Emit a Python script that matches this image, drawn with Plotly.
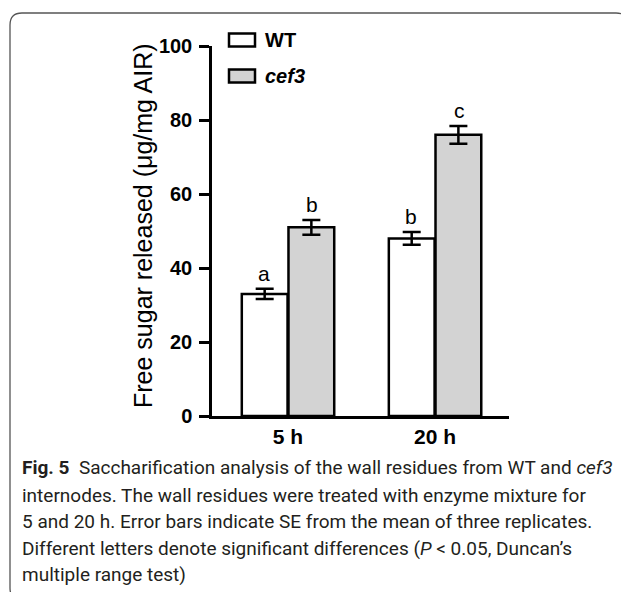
import plotly.graph_objects as go

categories = ["5 h", "20 h"]
wt_values = [33.0, 48.0]
wt_se = [1.4, 1.7]
cef3_values = [51.0, 76.0]
cef3_se = [2.0, 2.4]
wt_letters = ["a", "b"]
cef3_letters = ["b", "c"]
y_ticks = [0, 20, 40, 60, 80, 100]

OFF = 8  # page body margin
W, H = 629 - OFF, 592 - OFF
# plot area in target-image pixels
L, R, T, B = 212, 509, 46, 416


def px(x):
    return (x - L) / (R - L)


def py(y):
    return (B - y) / (B - T)


fig = go.Figure()
fig.add_trace(go.Bar(
    x=categories, y=wt_values, name="WT",
    marker=dict(color="white", line=dict(color="black", width=2.5)),
    error_y=dict(type="data", array=wt_se, visible=True, color="black", thickness=2.5, width=9),
))
fig.add_trace(go.Bar(
    x=categories, y=cef3_values, name="cef3",
    marker=dict(color="#d3d3d3", line=dict(color="black", width=2.5)),
    error_y=dict(type="data", array=cef3_se, visible=True, color="black", thickness=2.5, width=9),
))

annotations = []
for i, c in enumerate(categories):
    annotations.append(dict(x=c, y=wt_values[i] + wt_se[i], xref="x", yref="y", text=wt_letters[i],
                            showarrow=False, xshift=-24, yanchor="bottom", yshift=2,
                            font=dict(family="Liberation Sans", size=21, color="black")))
    annotations.append(dict(x=c, y=cef3_values[i] + cef3_se[i], xref="x", yref="y", text=cef3_letters[i],
                            showarrow=False, xshift=24, yanchor="bottom", yshift=2,
                            font=dict(family="Liberation Sans", size=21, color="black")))

# y-axis title
annotations.append(dict(x=px(143), y=py(226), xref="paper", yref="paper",
                        xanchor="center", yanchor="middle",
                        text="Free sugar released (μg/mg AIR)", textangle=-90, showarrow=False,
                        font=dict(family="Liberation Sans", size=25, color="black")))

# legend
shapes = []
leg = [("WT", "white", 40, "<b>WT</b>"), ("cef3", "#d3d3d3", 76, "<b><i>cef3</i></b>")]
for name, col, yc, txt in leg:
    shapes.append(dict(type="rect", xref="paper", yref="paper",
                       x0=px(229), x1=px(255), y0=py(yc - 6.5), y1=py(yc + 6.5),
                       fillcolor=col, line=dict(color="black", width=2.5)))
    annotations.append(dict(x=px(263), y=py(yc), xref="paper", yref="paper", text=txt,
                            showarrow=False, xanchor="left", yanchor="middle",
                            font=dict(family="Liberation Sans", size=20, color="black")))

# frame
r = 12
x0f, y0f, x1f, y1f = 10, 13, 628, 600
path = (f"M {px(x1f)},{py(y1f - r)} L {px(x1f)},{py(y0f + r)} "
        f"Q {px(x1f)},{py(y0f)} {px(x1f - r)},{py(y0f)} "
        f"L {px(x0f + r)},{py(y0f)} "
        f"Q {px(x0f)},{py(y0f)} {px(x0f)},{py(y0f + r)} "
        f"L {px(x0f)},{py(y1f - r)} Q {px(x0f)},{py(y1f)} {px(x0f + r)},{py(y1f)}")
shapes.append(dict(type="path", xref="paper", yref="paper", path=path,
                   line=dict(color="#555555", width=1.3)))

# caption
cap_lines = [
    "<b>Fig. 5</b>  Saccharification analysis of the wall residues from WT and <i>cef3</i>",
    "internodes. The wall residues were treated with enzyme mixture for",
    "5 and 20 h. Error bars indicate SE from the mean of three replicates.",
    "Different letters denote significant differences (<i>P</i> < 0.05, Duncan’s",
    "multiple range test)",
]
cap_y = [468, 495, 521, 548, 574]
for t, yy in zip(cap_lines, cap_y):
    annotations.append(dict(x=px(20), y=py(yy), xref="paper", yref="paper", text=t,
                            showarrow=False, xanchor="left", yanchor="middle",
                            font=dict(family="Roboto", size=19, color="#231f20")))

fig.update_layout(
    width=W, height=H,
    margin=dict(l=L - OFF, r=W - (R - OFF), t=T - OFF, b=H - (B - OFF), pad=0),
    paper_bgcolor="white", plot_bgcolor="white",
    barmode="group", bargap=0.365, bargroupgap=0.02,
    showlegend=False,
    annotations=annotations, shapes=shapes,
    xaxis=dict(range=[-0.517, 1.503], showline=True, linecolor="black", linewidth=2.5,
               ticks="", showgrid=False, zeroline=False, ticklabelstandoff=0,
               tickfont=dict(family="Liberation Sans", size=21, color="black", weight="bold")),
    yaxis=dict(range=[0, 100], tickvals=y_ticks, showline=True, linecolor="black", linewidth=2.5,
               ticks="outside", ticklen=10, tickwidth=2.5, tickcolor="black",
               showgrid=False, zeroline=False, ticklabelstandoff=3,
               tickfont=dict(family="Liberation Sans", size=20, color="black", weight="bold")),
)

fig.write_html("out.html")
